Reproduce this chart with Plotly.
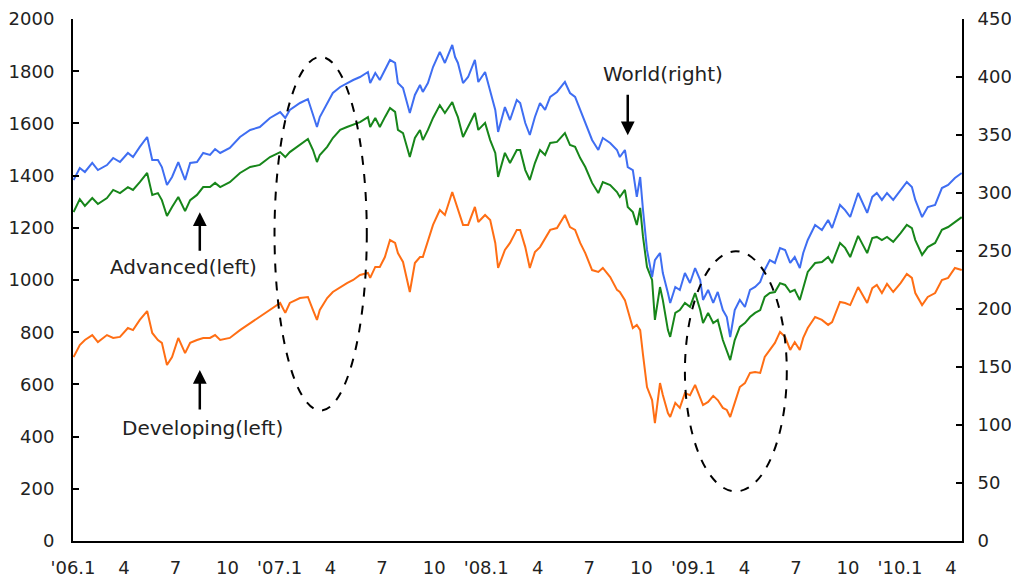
"""World / advanced / developing stock index chart, 2006-2010."""

import plotly.graph_objects as go
from plotly.subplots import make_subplots

DATES = [
    # 2006
    "2006-01-02", "2006-01-13", "2006-01-22", "2006-02-04", "2006-02-14", "2006-03-02",
    "2006-03-13", "2006-03-25", "2006-04-08", "2006-04-17", "2006-04-29", "2006-05-12",
    "2006-05-21", "2006-05-31", "2006-06-07", "2006-06-16", "2006-06-25", "2006-07-06",
    "2006-07-18", "2006-07-27", "2006-08-08", "2006-08-19", "2006-08-31", "2006-09-09",
    "2006-09-18", "2006-10-05", "2006-10-23", "2006-11-10", "2006-11-27", "2006-12-15",
    # 2007
    "2007-01-02", "2007-01-11", "2007-01-19", "2007-02-06", "2007-02-20", "2007-03-01",
    "2007-03-08", "2007-03-13", "2007-03-26", "2007-04-05", "2007-04-18", "2007-04-30",
    "2007-05-11", "2007-05-23", "2007-06-06",
    "2007-06-10", "2007-06-19", "2007-06-27", "2007-07-06", "2007-07-15", "2007-07-24",
    "2007-07-29", "2007-08-07", "2007-08-19", "2007-08-28", "2007-09-06", "2007-09-11",
    "2007-09-20", "2007-09-29", "2007-10-11", "2007-10-20", "2007-11-02", "2007-11-07",
    "2007-11-12", "2007-11-21", "2007-11-30", "2007-12-12", "2007-12-18", "2007-12-30",
    # 2008
    "2008-01-08", "2008-01-17", "2008-01-22", "2008-02-03", "2008-02-12", "2008-02-24",
    "2008-03-01", "2008-03-10", "2008-03-18", "2008-03-27", "2008-04-05", "2008-04-14",
    "2008-04-23", "2008-05-05", "2008-05-19", "2008-05-28", "2008-06-06", "2008-06-15",
    "2008-06-24", "2008-07-06", "2008-07-17", "2008-07-25", "2008-08-07", "2008-08-19",
    "2008-08-24", "2008-09-02", "2008-09-07", "2008-09-16", "2008-09-23", "2008-09-29",
    "2008-10-04", "2008-10-11", "2008-10-20", "2008-10-25", "2008-11-03", "2008-11-08",
    "2008-11-17",
    "2008-11-21", "2008-11-30", "2008-12-08", "2008-12-17", "2008-12-26",
    # 2009
    "2009-01-04", "2009-01-13", "2009-01-18", "2009-01-27", "2009-02-05", "2009-02-13",
    "2009-02-22", "2009-03-01", "2009-03-07", "2009-03-15", "2009-03-24", "2009-04-02",
    "2009-04-11", "2009-04-20", "2009-04-29", "2009-05-07", "2009-05-16", "2009-05-25",
    "2009-06-03", "2009-06-12", "2009-06-21", "2009-06-29", "2009-07-08", "2009-07-14",
    "2009-07-22", "2009-08-04",
    "2009-08-16", "2009-08-27", "2009-09-03", "2009-09-17", "2009-09-26", "2009-10-05",
    "2009-10-19", "2009-11-04", "2009-11-13", "2009-11-21", "2009-11-30", "2009-12-09",
    "2009-12-20",
    # 2010
    "2010-01-02", "2010-01-13", "2010-01-22", "2010-01-28", "2010-02-09", "2010-02-19",
    "2010-03-04", "2010-03-16", "2010-03-27", "2010-04-08", "2010-04-20",
]

# Advanced markets index (left axis)
ADVANCED = [
    1260, 1310, 1284, 1314, 1291, 1314, 1345, 1333, 1356, 1345, 1375, 1410,
    1326, 1333, 1306, 1245, 1280, 1318, 1264, 1306, 1326, 1356, 1356, 1372,
    1356, 1375, 1410, 1433, 1441, 1471, 1490, 1471, 1490, 1517, 1540, 1498,
    1452, 1479, 1510, 1544, 1575, 1586, 1594, 1605, 1624,
    1586, 1621, 1586, 1624, 1659, 1644, 1575, 1563, 1471, 1544, 1575, 1536,
    1575, 1621, 1670, 1640, 1682, 1651, 1624, 1548, 1586, 1640, 1575, 1602,
    1536, 1487, 1395, 1487, 1448, 1498,
    1498, 1421, 1383, 1448, 1498, 1479, 1525, 1529, 1563, 1517, 1510, 1467,
    1433, 1372, 1333, 1375, 1364, 1337, 1318, 1345, 1280, 1260, 1211, 1276,
    1165, 1050, 1000, 847, 973, 923, 808,
    782, 874, 885, 912, 897, 950, 885, 835, 874, 835, 847, 770,
    732, 693, 770, 820, 835, 858, 874, 885, 935, 950, 954, 988,
    981, 954, 962, 923, 969, 1031, 1065,
    1069, 1088, 1065, 1142, 1123, 1088, 1169, 1103, 1161, 1165, 1153, 1165,
    1146, 1180, 1211, 1199, 1153, 1096, 1126, 1142, 1192, 1203, 1222, 1241,
]

# Developing markets index (left axis)
DEVELOPING = [
    705, 751, 770, 789, 762, 789, 778, 782, 816, 808, 847, 881,
    797, 770, 759, 674, 705, 778, 720, 759, 770, 778, 778, 789,
    770, 778, 808, 835, 858, 885, 912, 874, 912, 931, 935, 885,
    847, 885, 931, 954, 973, 988, 1000, 1019, 1027,
    1008, 1050, 1050, 1088, 1153, 1142, 1103, 1069, 954, 1065, 1088, 1088,
    1153, 1211, 1268, 1249, 1337, 1306, 1268, 1211, 1211, 1280, 1222, 1249,
    1230, 1142, 1046, 1115, 1142, 1192,
    1192, 1126, 1046, 1107, 1126, 1161, 1192, 1199, 1249, 1203, 1192, 1142,
    1103, 1038, 1031, 1046, 1011, 962, 954, 923, 885, 816, 828, 808,
    713, 590, 540, 452, 605, 559, 490,
    475, 529, 510, 567, 559, 598, 548, 521, 533, 556, 540, 510,
    502, 475, 529, 590, 605, 644, 647, 644, 705, 732, 759, 801,
    782, 732, 762, 732, 778, 816, 858,
    847, 828, 839, 916, 912, 904, 973, 912, 969, 981, 950, 985,
    954, 988, 1023, 1008, 950, 904, 935, 950, 1000, 1008, 1046, 1038,
]

# World index (right axis)
WORLD = [
    311.2, 321.6, 318.1, 325.9, 319.8, 324.1, 330.2, 326.7, 334.5, 331.0, 339.7, 348.3,
    328.4, 328.4, 322.4, 306.9, 313.8, 326.7, 311.2, 325.9, 326.7, 334.5, 332.8, 337.9,
    334.5, 338.8, 348.3, 354.3, 356.9, 364.7, 369.8, 364.7, 371.6, 377.6, 381.0, 367.2,
    356.9, 365.5, 377.6, 386.2, 391.4, 394.8, 397.4, 400.0, 404.3,
    394.8, 403.4, 397.4, 406.0, 414.7, 412.1, 394.8, 390.5, 369.0, 384.5, 393.1, 387.1,
    394.8, 408.6, 421.6, 412.1, 427.6, 417.2, 412.1, 394.8, 400.0, 414.7, 395.7, 404.3,
    388.8, 371.6, 352.6, 374.1, 362.9, 380.2,
    377.6, 360.3, 350.0, 365.5, 377.6, 371.6, 382.8, 387.1, 395.7, 386.2, 382.8, 371.6,
    361.2, 345.7, 337.1, 347.4, 343.1, 337.1, 331.0, 337.1, 322.4, 319.8, 296.6, 313.8,
    285.3, 250.9, 227.6, 242.2, 248.3, 231.0, 213.8,
    205.2, 219.0, 216.4, 231.0, 222.4, 235.3, 225.0, 207.8, 216.4, 205.2, 214.7, 199.1,
    193.1, 175.9, 199.1, 207.8, 201.7, 216.4, 219.0, 223.3, 233.6, 242.2, 239.7, 252.6,
    250.9, 239.7, 244.8, 235.3, 248.3, 259.5, 272.4,
    268.1, 276.7, 269.8, 289.7, 285.3, 279.3, 300.0, 282.8, 296.6, 300.0, 294.0, 300.0,
    294.0, 302.6, 309.5, 305.2, 294.0, 279.3, 287.9, 289.7, 304.3, 306.9, 312.9, 317.2,
]

TICK_DATES = [
    "2006-01-01", "2006-04-01", "2006-07-01", "2006-10-01",
    "2007-01-01", "2007-04-01", "2007-07-01", "2007-10-01",
    "2008-01-01", "2008-04-01", "2008-07-01", "2008-10-01",
    "2009-01-01", "2009-04-01", "2009-07-01", "2009-10-01",
    "2010-01-01", "2010-04-01",
]
TICK_LABELS = [
    "'06.1", "4", "7", "10", "'07.1", "4", "7", "10", "'08.1",
    "4", "7", "10", "'09.1", "4", "7", "10", "'10.1", "4",
]

FONT = "DejaVu Sans"
TEXT_COLOR = "#222222"

assert len(DATES) == len(ADVANCED) == len(DEVELOPING) == len(WORLD)


def plot_indices():
    fig = make_subplots(specs=[[{"secondary_y": True}]])

    fig.add_scatter(
        x=DATES, y=DEVELOPING, mode="lines", name="Developing",
        line=dict(color="#FF6E14", width=2), secondary_y=False,
    )
    fig.add_scatter(
        x=DATES, y=WORLD, mode="lines", name="World",
        line=dict(color="#3F6EF2", width=2), secondary_y=True,
    )
    fig.add_scatter(
        x=DATES, y=ADVANCED, mode="lines", name="Advanced",
        line=dict(color="#17861A", width=2), secondary_y=False,
    )

    # dashed ellipses around the two turning points
    for x0, x1, y0, y1 in [
        ("2006-12-23", "2007-06-04", 500, 1855),
        ("2008-12-17", "2009-06-15", 190, 1110),
    ]:
        fig.add_shape(
            type="circle", xref="x", yref="y",
            x0=x0, x1=x1, y0=y0, y1=y1,
            line=dict(color="black", width=2, dash="dash"),
            layer="above",
        )

    # labels
    for x, y, text in [
        ("2008-11-08", 1789, "World(right)"),
        ("2006-07-16", 1050, "Advanced(left)"),
        ("2006-08-17", 433, "Developing(left)"),
    ]:
        fig.add_annotation(
            x=x, y=y, xref="x", yref="y", text=text, showarrow=False,
            font=dict(family=FONT, size=20, color=TEXT_COLOR),
        )

    # arrows (tip in data coords, tail offset in pixels)
    for x, y, ay in [
        ("2008-09-07", 1555, -42),
        ("2006-08-13", 1260, 40),
        ("2006-08-13", 655, 41),
    ]:
        fig.add_annotation(
            x=x, y=y, xref="x", yref="y", text="", showarrow=True,
            ax=0, ay=ay, arrowhead=2, arrowsize=1.1, arrowwidth=2.5,
            arrowcolor="black",
        )

    # page body has an 8px margin; keep the figure inside the window
    fig.update_layout(
        width=1003,
        height=569,
        margin=dict(l=65, r=49, t=11, b=36),
        paper_bgcolor="white",
        plot_bgcolor="white",
        showlegend=False,
        font=dict(family=FONT, size=18, color=TEXT_COLOR),
    )

    fig.update_xaxes(
        type="date",
        domain=[0, 1],
        range=["2006-01-01", "2010-04-20 12:00"],
        tickmode="array",
        tickvals=TICK_DATES,
        ticktext=TICK_LABELS,
        ticks="",
        ticklabelstandoff=9,
        ticklabeloverflow="allow",
        showgrid=False,
        zeroline=False,
        showline=True,
        linecolor="black",
        linewidth=2,
        automargin=False,
    )

    fig.update_yaxes(
        range=[0, 2000], dtick=200, ticks="inside", ticklen=6,
        tickwidth=2, tickcolor="black", showgrid=False, zeroline=False,
        showline=True, linecolor="black", linewidth=2,
        ticklabelstandoff=13, ticklabeloverflow="allow",
        automargin=False, secondary_y=False,
    )
    fig.update_yaxes(
        range=[0, 450], dtick=50, ticks="inside", ticklen=6,
        tickwidth=2, tickcolor="black", showgrid=False, zeroline=False,
        showline=True, linecolor="black", linewidth=2,
        ticklabelstandoff=10, ticklabeloverflow="allow",
        automargin=False, secondary_y=True,
    )

    return fig


fig = plot_indices()
fig.write_html("out.html")
